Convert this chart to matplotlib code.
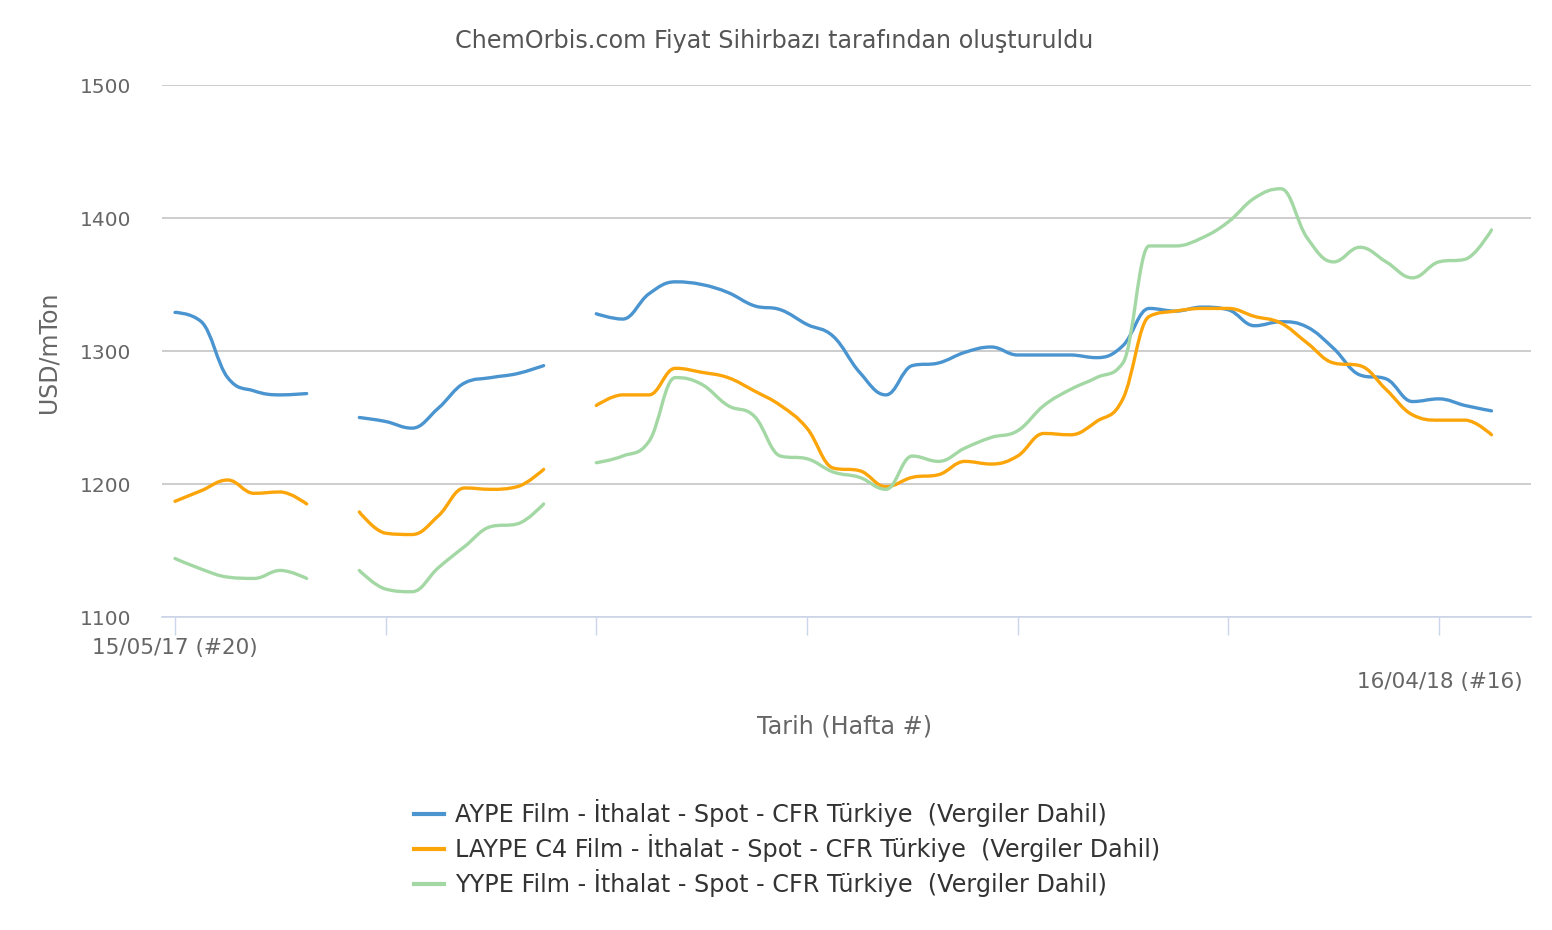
import numpy as np
import matplotlib
matplotlib.use("Agg")
import matplotlib.pyplot as plt
from matplotlib.path import Path
from matplotlib.patches import PathPatch
from matplotlib.lines import Line2D

# ---------------- data ----------------
weeks = list(range(51))  # week index 0 = 15/05/17 (#20)
N = None
aype = [1329, 1322, 1280, 1270, 1267, 1268, N,
        1250, 1247, 1242, 1257, 1276, 1280, 1283, 1289, N,
        1328, 1324, 1343, 1352, 1350, 1344, 1334, 1331, 1320, 1311,
        1284, 1267, 1289, 1291, 1299, 1303, 1297, 1297, 1297, 1295,
        1304, 1332, 1330, 1333, 1331, 1319, 1322, 1318, 1302, 1282,
        1279, 1262, 1264, 1259, 1255]
laype = [1187, 1195, 1203, 1193, 1194, 1185, N,
         1179, 1163, 1162, 1176, 1197, 1196, 1198, 1211, N,
         1259, 1267, 1267, 1287, 1284, 1280, 1270, 1259, 1242, 1212,
         1210, 1198, 1205, 1207, 1217, 1215, 1221, 1238, 1237, 1247,
         1264, 1326, 1330, 1332, 1332, 1326, 1321, 1306, 1291, 1289,
         1271, 1252, 1248, 1248, 1237]
yype = [1144, 1136, 1130, 1129, 1135, 1129, N,
        1135, 1121, 1119, 1137, 1153, 1168, 1170, 1185, N,
        1216, 1221, 1232, 1280, 1275, 1259, 1251, 1221, 1219, 1209,
        1205, 1196, 1221, 1217, 1227, 1235, 1240, 1259, 1271, 1280,
        1291, 1379, 1379, 1385, 1397, 1415, 1422, 1385, 1367, 1378,
        1367, 1355, 1367, 1369, 1391]

series_names = [
    "AYPE Film - İthalat - Spot - CFR Türkiye  (Vergiler Dahil)",
    "LAYPE C4 Film - İthalat - Spot - CFR Türkiye  (Vergiler Dahil)",
    "YYPE Film - İthalat - Spot - CFR Türkiye  (Vergiler Dahil)",
]
colors = ["#4a94d0", "#fca50a", "#a3d8a4"]
first_label = "15/05/17 (#20)"
last_label = "16/04/18 (#16)"
title = "ChemOrbis.com Fiyat Sihirbazı tarafından oluşturuldu"
xlabel = "Tarih (Hafta #)"
ylabel = "USD/mTon"
yticks = [1100, 1200, 1300, 1400, 1500]
xticks = [0, 8, 16, 24, 32, 40, 48]


# ------------- Highcharts-like spline -------------
def spline_path(xs, ys):
    verts, codes = [], []
    seg = []
    segments = []
    for x, y in zip(xs, ys):
        if y is None:
            if seg:
                segments.append(seg)
            seg = []
        else:
            seg.append((float(x), float(y)))
    if seg:
        segments.append(seg)
    sm = 1.5
    den = sm + 1
    for seg in segments:
        n = len(seg)
        lc = [None] * n
        rc = [None] * n
        for i in range(n):
            px, py = seg[i]
            if 0 < i < n - 1:
                lx, ly = seg[i - 1]
                nx, ny = seg[i + 1]
                lcx = (sm * px + lx) / den
                lcy = (sm * py + ly) / den
                rcx = (sm * px + nx) / den
                rcy = (sm * py + ny) / den
                corr = 0.0
                if rcx != lcx:
                    corr = (rcy - lcy) * (rcx - px) / (rcx - lcx) + py - rcy
                lcy += corr
                rcy += corr
                if lcy > ly and lcy > py:
                    lcy = max(ly, py); rcy = 2 * py - lcy
                elif lcy < ly and lcy < py:
                    lcy = min(ly, py); rcy = 2 * py - lcy
                if rcy > ny and rcy > py:
                    rcy = max(ny, py); lcy = 2 * py - rcy
                elif rcy < ny and rcy < py:
                    rcy = min(ny, py); lcy = 2 * py - rcy
                lc[i] = (lcx, lcy)
                rc[i] = (rcx, rcy)
            else:
                lc[i] = (px, py)
                rc[i] = (px, py)
        verts.append(seg[0]); codes.append(Path.MOVETO)
        for i in range(1, n):
            verts += [rc[i - 1], lc[i], seg[i]]
            codes += [Path.CURVE4] * 3
    return Path(verts, codes)


# ---------------- figure ----------------
W, H = 1552, 930
fig = plt.figure(figsize=(W / 100, H / 100), dpi=100)
plt.rcParams['font.family'] = ['DejaVu Sans']

left, right, top, bottom = 162, 1531, 85, 617
ax = fig.add_axes([left / W, 1 - bottom / H, (right - left) / W, (bottom - top) / H])
ax.set_xlim(-0.494, 51.5)
ax.set_ylim(1100, 1500)

for vals, c in zip([aype, laype, yype], colors):
    p = spline_path(weeks, vals)
    ax.add_patch(PathPatch(p, facecolor='none', edgecolor=c, lw=2.4,
                           capstyle='round', joinstyle='round', zorder=3))

ax.set_yticks(yticks)
ax.set_yticklabels([str(v) for v in yticks])
ax.grid(axis='y', color='#c0c0c0', lw=1.1, zorder=0)
ax.set_axisbelow(True)
ax.tick_params(axis='y', length=0, pad=22, labelsize=14.5, labelcolor='#666666')
ax.set_xticks(xticks)
ax.set_xticklabels([])
ax.tick_params(axis='x', length=13, width=1, color='#ccd6eb', direction='out')
for s in ['top', 'right', 'left']:
    ax.spines[s].set_visible(False)
ax.spines['bottom'].set_color('#ccd6eb')
ax.spines['bottom'].set_linewidth(1.2)
ax.spines['bottom'].set_zorder(1)

fs_small = 15.5
fig.text(175 / W, 1 - 648 / H, first_label, ha='center', va='center',
         fontsize=fs_small, color='#666666')
fig.text(1523 / W, 1 - 682 / H, last_label, ha='right', va='center',
         fontsize=fs_small, color='#666666')
fig.text(774 / W, 1 - 41 / H, title, ha='center', va='center',
         fontsize=17.2, color='#555555')
fig.text(845 / W, 1 - 726 / H, xlabel, ha='center', va='center',
         fontsize=17.2, color='#666666')
fig.text(48 / W, 1 - 352 / H, ylabel, ha='center', va='center',
         rotation=90, fontsize=17, color='#666666')

handles = [Line2D([], [], color=c, lw=3) for c in colors]
leg = fig.legend(handles, series_names, loc='upper left',
                 bbox_to_anchor=(414 / W, 1 - 799 / H), frameon=False,
                 fontsize=17.2, handlelength=1.25, handletextpad=0.46,
                 labelspacing=0.3, borderaxespad=0, borderpad=0)
for t in leg.get_texts():
    t.set_color('#333333')

fig.savefig("out.png", dpi=100)
